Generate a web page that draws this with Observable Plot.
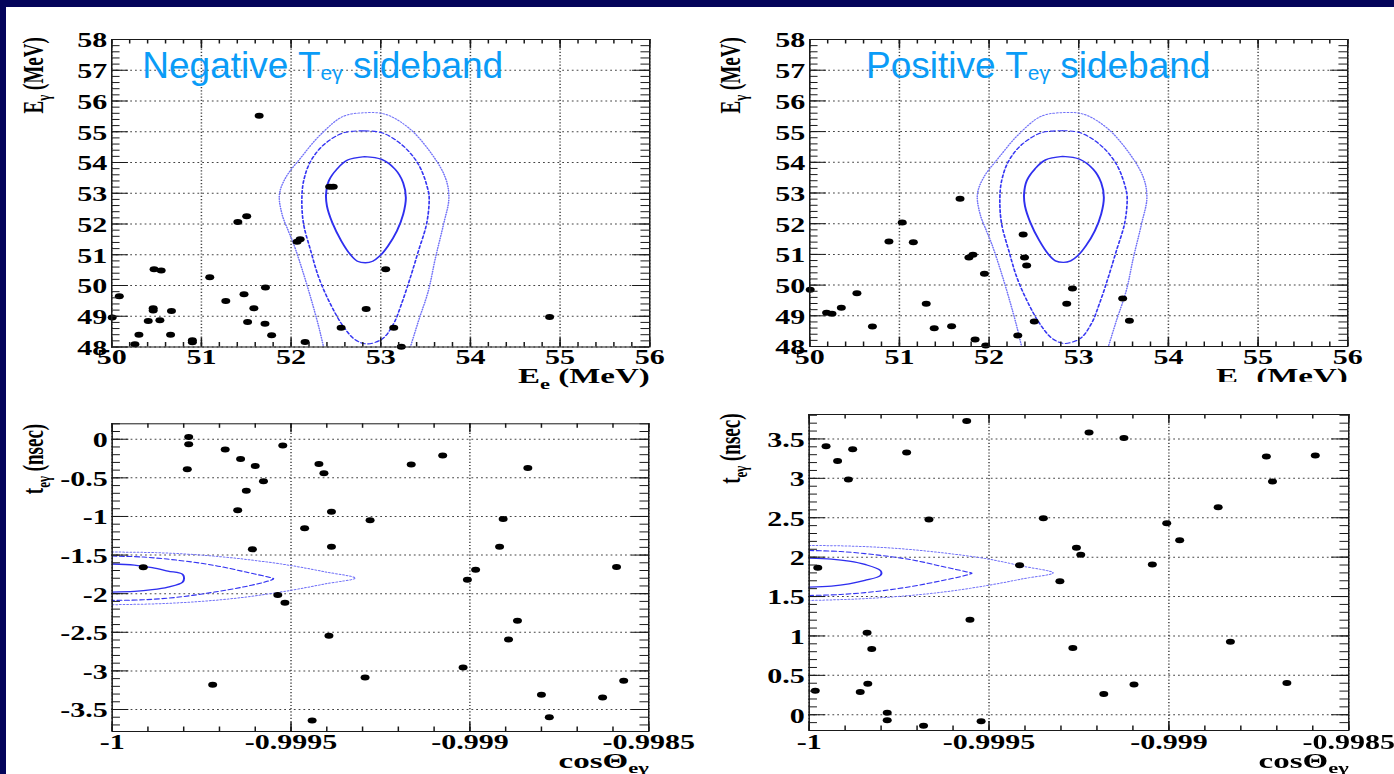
<!DOCTYPE html>
<html><head><meta charset="utf-8">
<script src="https://cdn.jsdelivr.net/npm/d3@7"></script>
<script src="https://cdn.jsdelivr.net/npm/@observablehq/plot@0.6"></script>
<style>
html,body{margin:0;padding:0;}
body{width:1394px;height:774px;overflow:hidden;background:#04045a;position:relative;}
#white{position:absolute;left:6px;top:7px;right:0;bottom:0;background:#fff;}
.panel{position:absolute;transform:scaleX(1.5);transform-origin:0 0;}
.panel svg{max-width:none;display:block;}
.title{position:absolute;font-family:"Liberation Sans",Arial,sans-serif;font-size:37px;line-height:37px;color:#0a9cf7;white-space:nowrap;}
.title .sub{font-size:21px;position:relative;top:2px;}
</style></head><body>
<div id="white"></div>
<script>
// ---------- tick values / labels ----------
const topXTicks = [50, 51, 52, 53, 54, 55, 56];
const topYTicks = [48, 49, 50, 51, 52, 53, 54, 55, 56, 57, 58];
const botXTicks = [-1, -0.9995, -0.999, -0.9985];
const negTTicks = [-3.5, -3, -2.5, -2, -1.5, -1, -0.5, 0];
const posTTicks = [0, 0.5, 1, 1.5, 2, 2.5, 3, 3.5];

// ---------- Negative T sideband: E_e vs E_gamma ----------
const negEe = [51.644, 52.43, 52.47, 51.406, 51.505, 52.067, 52.101, 50.472, 50.551, 51.093, 50.084, 51.714, 51.475, 51.272, 51.585, 50.462, 50.462, 50.666, 50.005, 50.407, 50.537, 51.515, 51.709, 50.303, 50.656, 51.783, 50.258, 50.899, 50.899, 52.156, 53.055, 52.837, 52.558, 53.145, 53.229, 54.883];
const negEg = [55.524, 53.212, 53.212, 52.061, 52.256, 51.420, 51.507, 50.530, 50.486, 50.269, 49.650, 49.933, 49.716, 49.498, 49.260, 49.26, 49.19, 49.173, 48.956, 48.847, 48.869, 48.814, 48.760, 48.402, 48.402, 48.380, 48.087, 48.217, 48.152, 48.163, 50.530, 49.238, 48.630, 48.630, 48.011, 48.977];

// ---------- Positive T sideband: E_e vs E_gamma ----------
const posEe = [51.676, 51.031, 50.883, 51.155, 51.775, 51.820, 51.948, 52.380, 52.395, 52.419, 52.930, 52.866, 53.490, 53.565, 52.504, 52.320, 50.005, 50.526, 50.352, 50.188, 50.248, 50.699, 51.299, 51.388, 51.582, 51.844, 51.963];
const posEg = [52.810, 52.039, 51.420, 51.398, 50.899, 50.986, 50.367, 51.648, 50.899, 50.638, 49.889, 49.390, 49.564, 48.836, 48.814, 48.358, 49.846, 49.737, 49.260, 49.097, 49.064, 48.651, 49.390, 48.597, 48.662, 48.228, 48.033];

// ---------- Negative T sideband: cosTheta vs t ----------
const negCos = [-0.999786, -0.999786, -0.999790, -0.999684, -0.999641, -0.999600, -0.999577, -0.999625, -0.999649, -0.999608, -0.999523, -0.999422, -0.999408, -0.999387, -0.999462, -0.999387, -0.999279, -0.999164, -0.999076, -0.998838, -0.998907, -0.998917, -0.998984, -0.999007, -0.999913, -0.998590, -0.999537, -0.999517, -0.999394, -0.998867, -0.998892, -0.999019, -0.999293, -0.999719, -0.998800, -0.998629, -0.998570, -0.998778, -0.999441];
const negT = [0.030, -0.065, -0.389, -0.134, -0.255, -0.346, -0.545, -0.666, -0.920, -1.426, -0.082, -0.320, -0.441, -0.938, -1.154, -1.392, -1.050, -0.328, -0.212, -0.372, -1.033, -1.392, -1.690, -1.819, -1.659, -1.655, -2.018, -2.118, -2.545, -2.351, -2.593, -2.956, -3.086, -3.181, -3.310, -3.345, -3.129, -3.600, -3.643];

// ---------- Positive T sideband: cosTheta vs t ----------
const posCos = [-0.999562, -0.999953, -0.999879, -0.999921, -0.999891, -0.999729, -0.999667, -0.999222, -0.999125, -0.999349, -0.999257, -0.999245, -0.999415, -0.999303, -0.999006, -0.998970, -0.999046, -0.998863, -0.998729, -0.998712, -0.998593, -0.999976, -0.999553, -0.999839, -0.999826, -0.999267, -0.998829, -0.999983, -0.999858, -0.999837, -0.999783, -0.999783, -0.999682, -0.999522, -0.999181, -0.999097, -0.998672];
const posT = [3.728, 3.407, 3.369, 3.221, 2.984, 3.327, 2.477, 3.580, 3.513, 2.494, 2.118, 2.029, 1.898, 1.695, 2.431, 2.215, 1.907, 2.634, 3.276, 2.959, 3.289, 1.864, 1.205, 1.040, 0.833, 0.846, 0.926, 0.305, 0.288, 0.394, 0.026, -0.071, -0.139, -0.084, 0.263, 0.385, 0.402];

// ---------- signal contours ----------
const sigE1 = [[52.82,54.19],[53.01,54.10],[53.16,53.78],[53.25,53.34],[53.28,52.85],[53.25,52.31],[53.18,51.77],[53.08,51.28],[52.99,50.96],[52.91,50.79],[52.83,50.74],[52.74,50.79],[52.66,51.01],[52.56,51.45],[52.46,52.04],[52.40,52.58],[52.39,52.96],[52.42,53.40],[52.51,53.78],[52.63,54.08],[52.82,54.19]];
const sigE2 = [[52.82,55.03],[53.01,54.97],[53.23,54.59],[53.42,53.94],[53.53,53.07],[53.54,52.75],[53.51,51.99],[53.42,51.12],[53.33,50.26],[53.23,49.39],[53.14,48.74],[53.01,48.25],[52.84,48.10],[52.71,48.25],[52.58,48.68],[52.44,49.39],[52.31,50.25],[52.22,51.12],[52.14,51.99],[52.12,52.75],[52.14,53.40],[52.22,54.05],[52.37,54.59],[52.59,54.97],[52.82,55.03]];
const sigE3 = [[52.37,47.9],[52.31,48.64],[52.24,49.39],[52.14,50.37],[52.03,51.34],[51.97,51.77],[51.90,52.31],[51.87,52.96],[51.94,53.51],[52.11,54.16],[52.33,54.91],[52.59,55.51],[52.84,55.62],[53.05,55.57],[53.31,55.13],[53.57,54.27],[53.72,53.51],[53.76,52.85],[53.70,51.99],[53.61,50.90],[53.53,49.82],[53.42,48.84],[53.32,47.9]];
const sigNegT1 = [[-1,-1.616],[-0.999938,-1.629],[-0.999888,-1.664],[-0.999844,-1.707],[-0.999803,-1.750],[-0.999803,-1.850],[-0.999844,-1.914],[-0.999888,-1.949],[-0.999938,-1.971],[-1,-1.979]];
const sigNegT2 = [[-1,-1.513],[-0.999913,-1.526],[-0.999813,-1.569],[-0.999714,-1.634],[-0.999626,-1.720],[-0.999564,-1.785],[-0.999549,-1.806],[-0.999564,-1.837],[-0.999626,-1.906],[-0.999714,-1.979],[-0.999813,-2.044],[-0.999913,-2.079],[-1,-2.087]];
const sigNegT3 = [[-1,-1.461],[-0.999875,-1.469],[-0.999751,-1.500],[-0.999626,-1.556],[-0.999502,-1.634],[-0.999402,-1.720],[-0.999321,-1.798],[-0.999402,-1.871],[-0.999502,-1.958],[-0.999626,-2.044],[-0.999751,-2.100],[-0.999875,-2.131],[-1,-2.143]];
const sigPosT1 = [[-1,1.987],[-0.999938,1.974],[-0.999889,1.949],[-0.999845,1.907],[-0.999802,1.830],[-0.999802,1.767],[-0.999845,1.704],[-0.999889,1.661],[-0.999938,1.632],[-1,1.619]];
const sigPosT2 = [[-1,2.084],[-0.999913,2.071],[-0.999814,2.029],[-0.999715,1.966],[-0.999629,1.881],[-0.999567,1.818],[-0.999548,1.797],[-0.999567,1.767],[-0.999629,1.704],[-0.999715,1.628],[-0.999814,1.564],[-0.999913,1.526],[-1,1.514]];
const sigPosT3 = [[-1,2.148],[-0.999876,2.139],[-0.999752,2.109],[-0.999629,2.055],[-0.999505,1.978],[-0.999406,1.885],[-0.999322,1.801],[-0.999406,1.725],[-0.999505,1.640],[-0.999629,1.556],[-0.999752,1.501],[-0.999876,1.467],[-1,1.450]];

// ---------- helpers ----------
const SVGNS = "http://www.w3.org/2000/svg";
function richText(svg) {
  svg.querySelectorAll("text").forEach(t => {
    const s = t.textContent;
    if (!s.includes("_{")) return;
    const g = t.closest("g[font-size]");
    const fs = g ? parseFloat(g.getAttribute("font-size")) : 20;
    const parts = s.split(/(_\{[^}]*\})/).filter(p => p.length);
    t.textContent = "";
    let shifted = false;
    for (const p of parts) {
      const ts = document.createElementNS(SVGNS, "tspan");
      if (p.startsWith("_{")) {
        ts.textContent = p.slice(2, -1);
        ts.setAttribute("font-size", (fs * 0.68).toFixed(1));
        ts.setAttribute("dy", (fs * 0.26).toFixed(1));
        shifted = true;
      } else {
        ts.textContent = p;
        if (shifted) { ts.setAttribute("dy", (-fs * 0.26).toFixed(1)); shifted = false; }
      }
      t.appendChild(ts);
    }
  });
}

const contourStyles = [
  {stroke: "#2f2fef", width: 1.3, dash: null},
  {stroke: "#3434f2", width: 1.1, dash: "3,2"},
  {stroke: "#7272f8", width: 1, dash: "1,1.4"}
];

function panel(o) {
  const FH = o.height - o.mt - o.mb;
  const FW = o.widthU - o.ml - o.mr;
  const lo = v => Math.min(...v), hi = v => Math.max(...v);
  const inside = (v, d) => v >= lo(d) - 1e-9 && v <= hi(d) + 1e-9;
  const xMinor = o.xMinor.filter(v => inside(v, o.xDomain));
  const yMinor = o.yMinor.filter(v => inside(v, o.yDomain));
  const pts = o.xs.map((x, i) => ({x, y: o.ys[i]}));
  const tick = {stroke: "#1a1a1a", strokeWidth: 1};
  const grid = {stroke: "#454545", strokeOpacity: 1, strokeWidth: 1, strokeDasharray: "1.2,2"};
  const marks = [
    Plot.gridX(o.xGrid, grid),
    Plot.gridY(o.yGrid, grid),
    ...o.contours.map((c, i) => Plot.line(c, {
      x: d => d[0], y: d => d[1], stroke: contourStyles[i].stroke,
      strokeWidth: contourStyles[i].width, strokeDasharray: contourStyles[i].dash,
      curve: "catmull-rom", clip: true
    })),
    Plot.dot(pts, {x: "x", y: "y", r: 3, fill: "#000"}),
    Plot.ruleX(o.xMajor, {...tick, insetTop: FH - 9}),
    Plot.ruleX(o.xMajor, {...tick, insetBottom: FH - 9}),
    Plot.ruleX(xMinor, {...tick, insetTop: FH - 4.5}),
    Plot.ruleX(xMinor, {...tick, insetBottom: FH - 4.5}),
    Plot.ruleY(o.yMajor, {...tick, insetRight: FW - 11.3}),
    Plot.ruleY(o.yMajor, {...tick, insetLeft: FW - 11.3}),
    Plot.ruleY(yMinor, {...tick, insetRight: FW - 5.7}),
    Plot.ruleY(yMinor, {...tick, insetLeft: FW - 5.7}),
    Plot.frame({stroke: "#1a1a1a", strokeWidth: 1}),
    Plot.axisX(o.xMajor, {anchor: "bottom", tickSize: 0, tickPadding: o.xPad, tickFormat: d => String(d), label: null}),
    Plot.axisY(o.yMajor, {anchor: "left", tickSize: 0, tickPadding: 3, tickFormat: d => String(d), label: null, dy: 1.5}),
    Plot.text([o.xTitle], {text: d => d, frameAnchor: "bottom-right", textAnchor: "end", lineAnchor: "bottom", dy: o.xTitleDy, fontSize: 22}),
    Plot.text([o.yTitle], {text: d => d, frameAnchor: "top-left", rotate: -90, textAnchor: "end", lineAnchor: "bottom", dx: 28 - o.ml, dy: o.yTitleDy, fontSize: 19})
  ];
  const svg = Plot.plot({
    width: o.widthU, height: o.height,
    marginLeft: o.ml, marginRight: o.mr, marginTop: o.mt, marginBottom: o.mb,
    x: {domain: o.xDomain, axis: null},
    y: {domain: o.yDomain, axis: null},
    style: {
      background: o.bg || "transparent", overflow: "visible", color: "#000",
      fontFamily: "'Liberation Serif', 'Times New Roman', serif", fontWeight: "bold", fontSize: "20px"
    },
    marks
  });
  richText(svg);
  const div = document.createElement("div");
  div.className = "panel";
  div.style.left = o.left + "px";
  div.style.top = o.top + "px";
  div.style.width = o.widthU + "px";
  div.appendChild(svg);
  document.body.appendChild(div);
}

const topXMinor = d3.range(0, 31).map(i => 50 + i * 0.2);
const topYMinor = d3.range(0, 51).map(i => 48 + i * 0.2);
const botXMinor = d3.range(0, 16).map(i => -1 + i * 0.0001);
const negTMinor = d3.range(-38, 3).map(i => i / 10);
const posTMinor = d3.range(-2, 39).map(i => i / 10);

const eeTitle = "E_{e} (MeV)";
const egTitle = "E_{γ} (MeV)";
const cosTitle = "cosΘ_{eγ}";
const tTitle = "t_{eγ} (nsec)";

// top-left
panel({left: 0, top: 0, widthU: 464, height: 392, ml: 74, mr: 31.33, mt: 39, mb: 45.5,
  xDomain: [50, 56], yDomain: [48, 58], xMajor: topXTicks, yMajor: topYTicks,
  xMinor: topXMinor, yMinor: topYMinor, xGrid: topXTicks, yGrid: topYTicks,
  xs: negEe, ys: negEg, contours: [sigE1, sigE2, sigE3],
  xTitle: eeTitle, yTitle: egTitle, xTitleDy: 36, yTitleDy: -2.3, xPad: 3});
// top-right
panel({left: 697, top: 0, widthU: 465, height: 392, ml: 74.67, mr: 31.67, mt: 39, mb: 46,
  xDomain: [50, 56], yDomain: [48, 58], xMajor: topXTicks, yMajor: topYTicks,
  xMinor: topXMinor, yMinor: topYMinor, xGrid: topXTicks, yGrid: topYTicks,
  xs: posEe, ys: posEg, contours: [sigE1, sigE2, sigE3],
  xTitle: eeTitle, yTitle: egTitle, xTitleDy: 36.5, yTitleDy: -2.3, xPad: 3});
// bottom-left
panel({left: 0, top: 392, widthU: 464, height: 382, ml: 74.27, mr: 32, mt: 31.3, mb: 43,
  xDomain: [-1, -0.9985], yDomain: [-3.785, 0.2], xMajor: botXTicks, yMajor: negTTicks,
  xMinor: botXMinor, yMinor: negTMinor, xGrid: botXTicks, yGrid: negTTicks,
  xs: negCos, ys: negT, contours: [sigNegT1, sigNegT2, sigNegT3],
  xTitle: cosTitle, yTitle: tTitle, xTitleDy: 36, yTitleDy: 0, xPad: 3.5});
// bottom-right
panel({left: 697, top: 382, widthU: 465, height: 392, ml: 74.27, mr: 31, mt: 32, mb: 44,
  xDomain: [-1, -0.9985], yDomain: [-0.2, 3.81], xMajor: botXTicks, yMajor: posTTicks,
  xMinor: botXMinor, yMinor: posTMinor, xGrid: botXTicks, yGrid: posTTicks,
  xs: posCos, ys: posT, contours: [sigPosT1, sigPosT2, sigPosT3],
  xTitle: cosTitle, yTitle: tTitle, xTitleDy: 37, yTitleDy: -1, xPad: 4, bg: "#fff"});

// sideband titles
function addTitle(text, left) {
  const d = document.createElement("div");
  d.className = "title";
  d.style.left = left + "px";
  d.style.top = "47px";
  d.innerHTML = text;
  document.body.appendChild(d);
}
addTitle('Negative T<span class="sub">eγ</span> sideband', 142.3);
addTitle('Positive T<span class="sub">eγ</span> sideband', 866);
</script>
</body></html>
